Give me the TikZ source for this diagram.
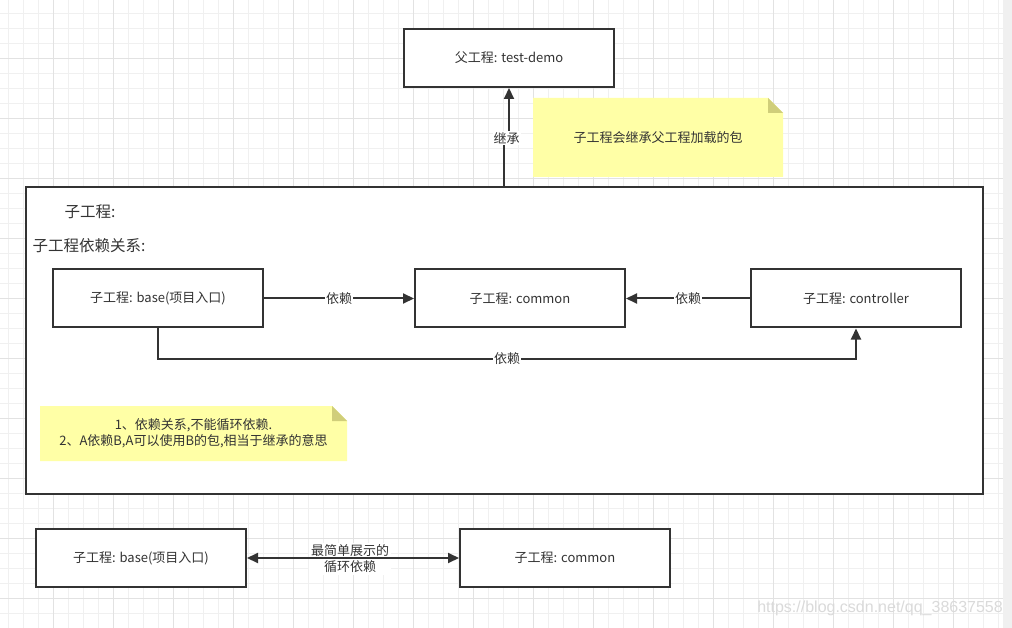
\documentclass[tikz,border=0pt]{standalone}
\usepackage{fontspec}
\setmainfont{Noto Sans CJK SC}
\newfontfamily\wmfont{Liberation Sans}
\usetikzlibrary{arrows.meta,calc}
\definecolor{ink}{RGB}{51,51,51}
\definecolor{txt}{RGB}{51,51,51}
\definecolor{gridminor}{RGB}{240,240,240}
\definecolor{gridmajor}{RGB}{226,226,226}
\definecolor{notefill}{RGB}{255,255,166}
\definecolor{notefold}{RGB}{208,206,122}
\definecolor{scroll}{RGB}{240,240,240}
\definecolor{wm}{RGB}{218,218,218}
\begin{document}
\begin{tikzpicture}[x=1pt,y=-1pt,
  box/.style={draw=ink,line width=2pt,fill=white,minimum width=210pt,minimum height=58pt,inner sep=0pt,font=\fontsize{13}{16}\selectfont,text=txt},
  lbl/.style={fill=white,inner sep=1pt,font=\fontsize{13}{16}\selectfont,text=txt},
  conn/.style={draw=ink,line width=2pt},
  arr/.style={conn,-{Triangle[length=11pt,width=10pt]}},
  dblarr/.style={conn,{Triangle[length=11pt,width=10pt]}-{Triangle[length=11pt,width=10pt]}},
  notetext/.style={font=\fontsize{13}{16}\selectfont,text=txt,align=center},
  heading/.style={anchor=west,font=\fontsize{15.5}{18}\selectfont,text=txt}
]
\useasboundingbox (0,0) rectangle (1012,628);
\fill[white] (0,0) rectangle (1012,628);
% grid
\foreach \i in {0,...,66} {
  \pgfmathsetmacro\xx{8.3+15*\i}
  \draw[gridminor,line width=1pt] (\xx,0) -- (\xx,628);
}
\foreach \i in {0,...,41} {
  \pgfmathsetmacro\yy{13.3+15*\i}
  \draw[gridminor,line width=1pt] (0,\yy) -- (1003,\yy);
}
\foreach \i in {0,...,15} {
  \pgfmathsetmacro\xx{53.3+60*\i}
  \draw[gridmajor,line width=1pt] (\xx,0) -- (\xx,628);
}
\foreach \i in {0,...,9} {
  \pgfmathsetmacro\yy{58.3+60*\i}
  \draw[gridmajor,line width=1pt] (0,\yy) -- (1003,\yy);
}
\fill[scroll] (1003,0) rectangle (1012,628);

% parent
\node[box] (parent) at (509,58) {父工程: test-demo};

% note 1
\fill[notefill] (533,98) -- (768,98) -- (783,113) -- (783,177) -- (533,177) -- cycle;
\fill[notefold] (768,98) -- (783,113) -- (768,113) -- cycle;
\node[notetext] (n1) at (658,137.5) {子工程会继承父工程加载的包};

% container
\node[draw=ink,line width=2pt,fill=white,minimum width=957pt,minimum height=307pt,inner sep=0pt] (cont) at (504.5,340.5) {};
\node[heading] (t1) at (61,212) {子工程:};
\node[heading] (t2) at (29,246) {子工程依赖关系:};

% inheritance arrow
\draw[arr] ([xshift=-5pt]parent.south |- cont.north) -- ++(0,-48) -- ++(5,0) -- (parent.south);
\node[lbl] (inh) at (506.5,138) {继承};

% sub projects
\node[box] (base) at (158,298.5) {子工程: base(项目入口)};
\node[box] (common) at (520,298.5) {子工程: common};
\node[box] (ctrl) at (856,298.5) {子工程: controller};

\draw[arr] (base.east) -- node[lbl] (d1) {依赖} (common.west);
\draw[arr] (ctrl.west) -- node[lbl] (d2) {依赖} (common.east);
\draw[arr] (base.south) -- ++(0,30) -| node[lbl,pos=0.25] (d3) {依赖} (ctrl.south);

% note 2
\fill[notefill] (40,406) -- (332,406) -- (347,421) -- (347,461) -- (40,461) -- cycle;
\fill[notefold] (332,406) -- (347,421) -- (332,421) -- cycle;
\node[notetext] (n2) at (193.5,433.5) {1、依赖关系,不能循环依赖.\\2、A依赖B,A可以使用B的包,相当于继承的意思};

% bottom
\node[box] (base2) at (141,558) {子工程: base(项目入口)};
\node[box] (common2) at (565,558) {子工程: common};
\node[lbl,align=center,inner sep=2pt] (d4) at (350,559) {最简单展示的\\循环依赖};
\draw[dblarr] (base2.east) -- (common2.west);

% watermark
\node[anchor=east,font=\wmfont\fontsize{16}{18}\selectfont,text=wm,inner sep=0pt] (wmk) at (1003,608) {https://blog.csdn.net/qq\_38637558};
\end{tikzpicture}
\end{document}
